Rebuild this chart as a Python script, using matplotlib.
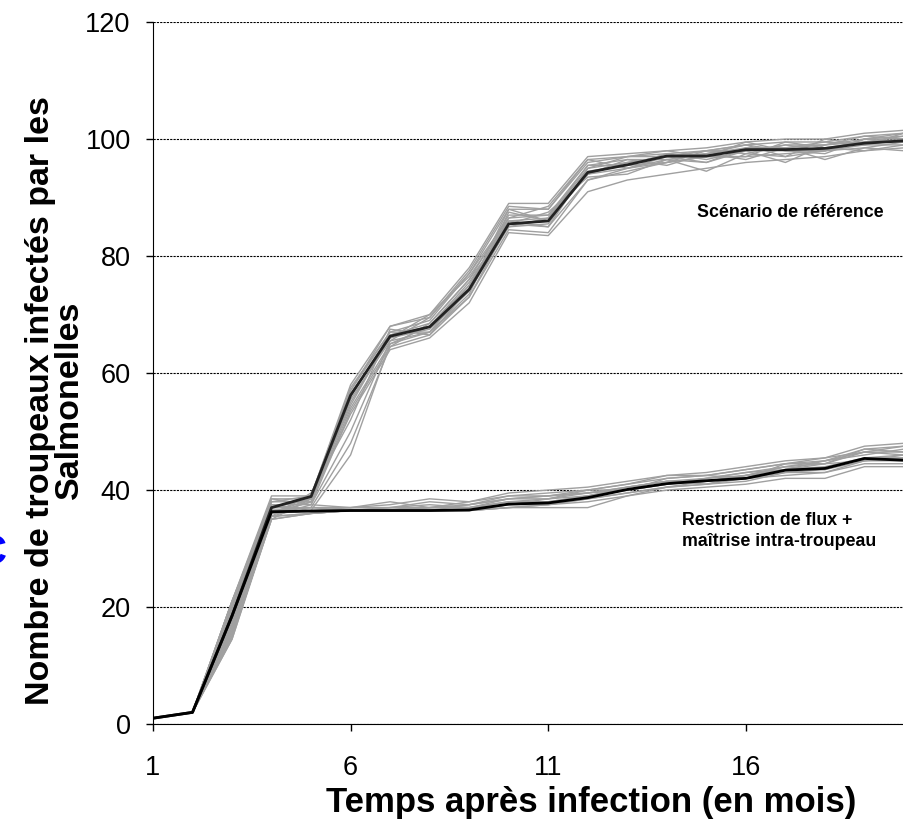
import matplotlib
matplotlib.use("Agg")
import matplotlib.pyplot as plt

plt.rcParams['font.family'] = ['Liberation Sans', 'DejaVu Sans']

mois = list(range(1, 21))

# simulations, scenario de reference (gris)
ref_runs = [
    [1, 2, 21, 39, 39, 58, 68, 70, 78, 89, 89, 97, 97.5, 98, 98.5, 99.5, 100, 100, 101, 101.5],
    [1, 2, 20, 38, 39, 57, 67, 69, 77, 88, 88, 96, 97, 97.5, 98, 99, 99.5, 99.5, 100.5, 101],
    [1, 2, 19, 37, 39, 56, 66.5, 68, 75, 86, 86.5, 95, 96, 97, 97.5, 98.5, 98.5, 99, 100, 100.5],
    [1, 2, 18, 36, 38.5, 55, 66, 67.5, 74, 85, 85.5, 94.5, 95.5, 97.5, 96.5, 98, 98, 98.5, 99.5, 99.5],
    [1, 2, 17, 36, 38, 54, 65, 67, 73, 84.5, 84, 93, 94.5, 96, 97, 97, 97.5, 98, 99, 99],
    [1, 2, 15, 35, 38.5, 53, 64, 66, 72, 84, 83.5, 91, 93, 94, 95, 96, 96.5, 97, 98, 98.5],
    [1, 2, 16, 36.5, 37, 48, 64.5, 68.5, 76, 87, 87, 95.5, 96.5, 96.5, 94.5, 97.5, 99, 98, 100, 100],
    [1, 2, 20.5, 38.5, 37.5, 50, 65.5, 69.5, 77, 86.5, 88.5, 96.5, 95, 97, 98, 99, 97, 100, 99, 101],
    [1, 2, 14.5, 35.5, 39.5, 52, 67.5, 66.5, 74.5, 88, 86, 94, 96.5, 95.5, 97.5, 96.5, 98.5, 96.5, 98.5, 98],
    [1, 2, 19.5, 37.5, 36.5, 46, 65, 68, 75.5, 85.5, 87.5, 93.5, 94, 96.5, 96, 98, 96, 99, 99.5, 100.5],
    [1, 2, 18.5, 38, 38, 56.5, 66, 70, 76.5, 86, 85, 95, 97, 98, 97, 99.5, 98, 97.5, 100, 99.5],
    [1, 2, 17.5, 36, 39, 57.5, 67, 67, 73.5, 87.5, 86, 94, 95, 96, 97, 97, 99.5, 98.5, 98, 99],
    [1, 2, 21, 38.5, 38.5, 57, 68, 69.5, 77.5, 88.5, 88, 96.5, 97, 97, 98, 98, 99, 99, 100.5, 100],
    [1, 2, 16.5, 36, 38, 55.5, 65.5, 67, 75, 86.5, 87, 94, 96, 97, 96, 98.5, 98.5, 99.5, 99, 100],
    [1, 2, 19, 37, 38.5, 54.5, 66.5, 68.5, 76, 85, 86.5, 95.5, 95.5, 96, 98, 97.5, 97, 98, 100, 101],
    [1, 2, 15.5, 35.5, 37.5, 53.5, 64.5, 66.5, 73, 85.5, 85, 93, 95, 96.5, 97.5, 99, 98, 98, 98.5, 99.5],
]
ref_moyenne = [1, 2, 18.5, 37, 38.9, 56.2, 66.3, 67.9, 74.3, 85.5, 86, 94.3, 95.6, 97.1, 97.1, 98.2, 98.2, 98.4, 99.3, 99.7]

# simulations, restriction de flux + maitrise intra-troupeau
restr_runs = [
    [1, 2, 21, 37.5, 37.5, 37, 37.5, 38.5, 38, 39.5, 40, 40.5, 41.5, 42.5, 43, 44, 45, 45.5, 47.5, 48],
    [1, 2, 20, 37, 37, 37, 37, 38, 37.5, 39, 39.5, 40, 41, 42, 42.5, 43.5, 44.5, 45, 47, 47.5],
    [1, 2, 19, 36.5, 36.5, 36.5, 37, 37.5, 37, 38.5, 38.5, 39.5, 40.5, 41.5, 42, 43, 44, 44.5, 46.5, 46.5],
    [1, 2, 18, 36, 36.5, 36.5, 36.5, 37, 37, 38, 38, 39, 40, 41, 41.5, 42.5, 43.5, 44, 45.5, 45.5],
    [1, 2, 17, 36, 36.5, 36.5, 36.5, 36.5, 36.5, 37.5, 37.5, 38.5, 39.5, 40.5, 41, 41.5, 43, 43.5, 45, 45],
    [1, 2, 15, 35, 36, 36.5, 36.5, 36.5, 36.5, 37, 37, 37, 39, 40, 40.5, 41, 42, 42, 44, 44],
    [1, 2, 16, 35.5, 36, 36.5, 36.5, 36.5, 36.5, 37, 37.5, 38, 39, 40.5, 41.5, 42, 42.5, 43, 44.5, 44.5],
    [1, 2, 20.5, 36.5, 36.5, 37, 37, 37, 37.5, 38.5, 39, 39.5, 40, 41, 42, 43, 43.5, 45, 46, 47],
    [1, 2, 14.5, 35, 36, 36.5, 36.5, 36.5, 36.5, 37.5, 38, 39, 40.5, 41.5, 41, 42.5, 44, 43.5, 45.5, 46],
    [1, 2, 19.5, 36, 36.5, 36.5, 36.5, 37, 37, 38, 38.5, 40, 40, 42, 42.5, 42, 44.5, 44.5, 47, 46.5],
    [1, 2, 21, 37, 37, 37, 38, 37, 38, 39, 39, 40, 41, 42.5, 42.5, 43.5, 44.5, 45.5, 46.5, 47.5],
    [1, 2, 16.5, 36, 36.5, 36.5, 36.5, 37, 37, 37.5, 38.5, 39, 40, 41, 42, 42.5, 43.5, 44.5, 45, 46],
    [1, 2, 19, 36.5, 37, 36.5, 37, 36.5, 37.5, 38.5, 39, 39.5, 40.5, 41.5, 41.5, 42.5, 44, 45, 46.5, 46],
    [1, 2, 15.5, 35.5, 36, 36.5, 36.5, 36.5, 36.5, 37, 37.5, 38.5, 39.5, 40.5, 41, 42, 43, 43, 45, 45.5],
]
restr_moyenne = [1, 2, 18.5, 36.3, 36.4, 36.5, 36.5, 36.5, 36.6, 37.6, 37.8, 38.7, 40.1, 41.1, 41.6, 42, 43.4, 43.7, 45.4, 45.1]

fig = plt.figure(figsize=(9.04, 8.39), dpi=100)
ax = fig.add_axes([0.1692, 0.137, 0.8308, 0.8367])

for r in ref_runs + restr_runs:
    ax.plot(mois, r, color='#a0a0a0', lw=1.0)
ax.plot(mois, ref_moyenne, color='#222222', lw=2.0)
ax.plot(mois, restr_moyenne, color='black', lw=2.0)

ax.set_xlim(1, 20)
ax.set_ylim(0, 120)
ax.set_xticks([1, 6, 11, 16])
ax.set_yticks(range(0, 121, 20))
ax.tick_params(axis='both', direction='out', length=5, width=1, labelsize=19.5)
ax.tick_params(axis='x', pad=17)
ax.tick_params(axis='y', pad=11)
ax.yaxis.grid(True, color='black', linestyle=(0, (2, 1)), lw=0.8)
ax.set_axisbelow(True)
for s in ['top', 'right']:
    ax.spines[s].set_visible(False)

ax.text(17.13, 87.5, 'Scénario de référence', ha='center', va='center',
        fontsize=12.8, fontweight='bold')
ax.text(14.39, 33, 'Restriction de flux +\nmaîtrise intra-troupeau', ha='left',
        va='center', fontsize=12.8, fontweight='bold', linespacing=1.25)

fig.text(0.654, 0.044, 'Temps après infection (en mois)', ha='center', va='center',
         fontsize=25, fontweight='bold')
fig.text(0.0608, 0.523, 'Nombre de troupeaux infectés par les\nSalmonelles', rotation=90,
         ha='center', va='center', multialignment='center', fontsize=24.5,
         fontweight='bold', linespacing=0.88)
fig.text(6 / 904, 1 - 553 / 839, 'C', ha='right', va='center', color='blue',
         fontsize=30, fontweight='bold')

fig.savefig('out.png', dpi=100)
